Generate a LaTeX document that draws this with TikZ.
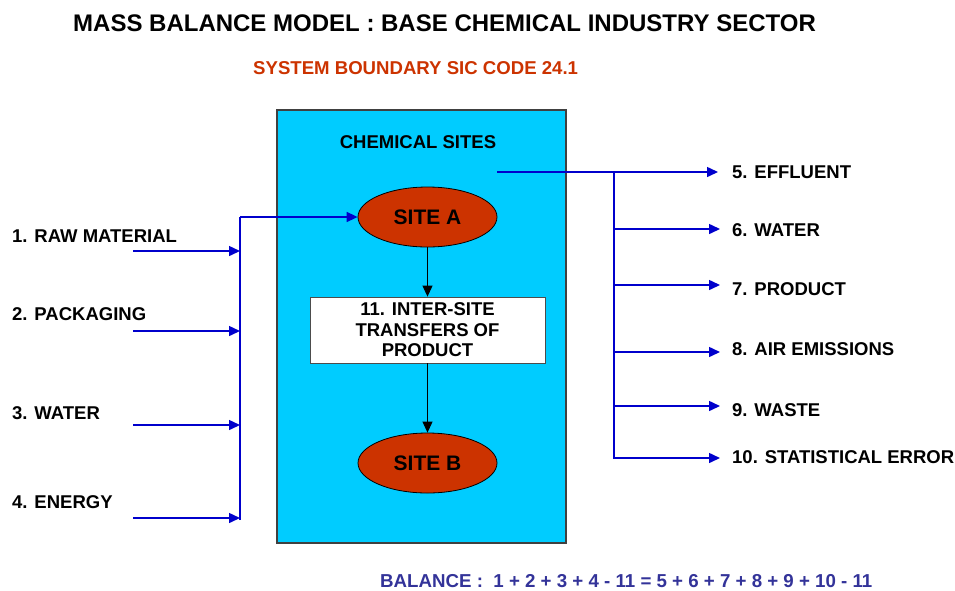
\documentclass[tikz,border=0pt]{standalone}
\usepackage{fontspec}
\setmainfont{Liberation Sans}
\usetikzlibrary{arrows.meta,shapes.geometric}

\begin{document}
\begin{tikzpicture}[x=1pt,y=-1pt]
    % Styles
    \tikzstyle{label text} = [font=\fontsize{18.5}{20.5}\selectfont\bfseries, inner sep=0pt]
    \tikzstyle{flow} = [draw=flow color, line width=1.5pt, -{Triangle[length=11pt,width=10pt]}]
    \tikzstyle{bus} = [draw=flow color, line width=1.5pt]
    \tikzstyle{site} = [ellipse, draw=black, line width=0.8pt, fill=site color, minimum width=139pt, minimum height=60pt, inner sep=0pt, font=\fontsize{21}{24}\selectfont\bfseries]
    \tikzstyle{transfer arrow} = [draw=black, line width=0.9pt, -{Triangle[length=11pt,width=10pt]}]

    % Colors
    \colorlet{flow color}{blue!80!black}
    \definecolor{site color}{HTML}{CC3300}
    \definecolor{boundary fill}{HTML}{00CCFF}
    \definecolor{balance color}{HTML}{333399}

    \useasboundingbox (0,0) rectangle (955,590);

    %%% Headings
    \node[anchor=west, inner sep=0pt, font=\fontsize{24}{28}\selectfont\bfseries] (title)
        at (73,23) {MASS BALANCE MODEL : BASE CHEMICAL INDUSTRY SECTOR};
    \node[anchor=west, inner sep=0pt, text=site color, font=\fontsize{18.6}{21}\selectfont\bfseries] (boundary)
        at (253,68) {SYSTEM BOUNDARY SIC CODE 24.1};

    %%% Chemical sites
    \node[draw=black!75, line width=1.5pt, fill=boundary fill, anchor=north west,
        minimum width=289pt, minimum height=433pt] (sites) at (276,109) {};
    \node[label text] (sites title) at (418,142) {CHEMICAL SITES};

    \node[site] (site a) at (427.5,217) {SITE A};
    \node[draw=black!70, line width=0.8pt, fill=white, align=center, label text,
        minimum width=235pt, minimum height=66pt] (transfer) at (427.5,330)
        {11. INTER-SITE\\TRANSFERS OF\\PRODUCT};
    \node[site] (site b) at (427.5,463) {SITE B};

    \draw[transfer arrow] (site a) -- (transfer);
    \draw[transfer arrow] (transfer) -- (site b);

    %%% Inputs
    \coordinate (in bus top) at (240,217);
    \coordinate (in bus bottom) at (240,520);
    \draw[bus] (in bus bottom) -- (in bus top);
    \draw[flow] (in bus top) -- (site a);

    \foreach \name/\lbl/\ly/\ay in {1/RAW MATERIAL/236/251, 2/PACKAGING/314/331,
                                     3/WATER/413/425, 4/ENERGY/502/518}
    {
        \node[label text, anchor=west] (in \name) at (12,\ly) {\name. \lbl};
        \coordinate (in arrow \name) at (133,\ay);
        \draw[flow] (in arrow \name) -- (in arrow \name -| in bus top);
    }

    %%% Outputs
    \coordinate (out start) at (497,172);
    \coordinate (out 5) at (718,172);
    \coordinate (out bus top) at (614,172);
    \coordinate (out bus bottom) at (614,459);
    \draw[flow] (out start) -- (out 5);
    \draw[bus] (out bus top) -- (out bus bottom);
    \node[label text, anchor=west] (out label 5) at (732,172) {5. EFFLUENT};

    \foreach \name/\lbl/\ly/\ay in {6/WATER/230/229, 7/PRODUCT/289/285,
                                     8/AIR EMISSIONS/349/352, 9/WASTE/410/406,
                                     10/STATISTICAL ERROR/457/458}
    {
        \coordinate (out \name) at (720,\ay);
        \draw[flow] (out \name -| out bus top) -- (out \name);
        \node[label text, anchor=west] (out label \name) at (732,\ly) {\name. \lbl};
    }

    %%% Balance
    \node[anchor=west, inner sep=0pt, text=balance color, font=\fontsize{18.7}{21}\selectfont\bfseries] (balance)
        at (380,581) {BALANCE :\ \ 1 + 2 + 3 + 4 - 11 = 5 + 6 + 7 + 8 + 9 + 10 - 11};
\end{tikzpicture}
\end{document}
